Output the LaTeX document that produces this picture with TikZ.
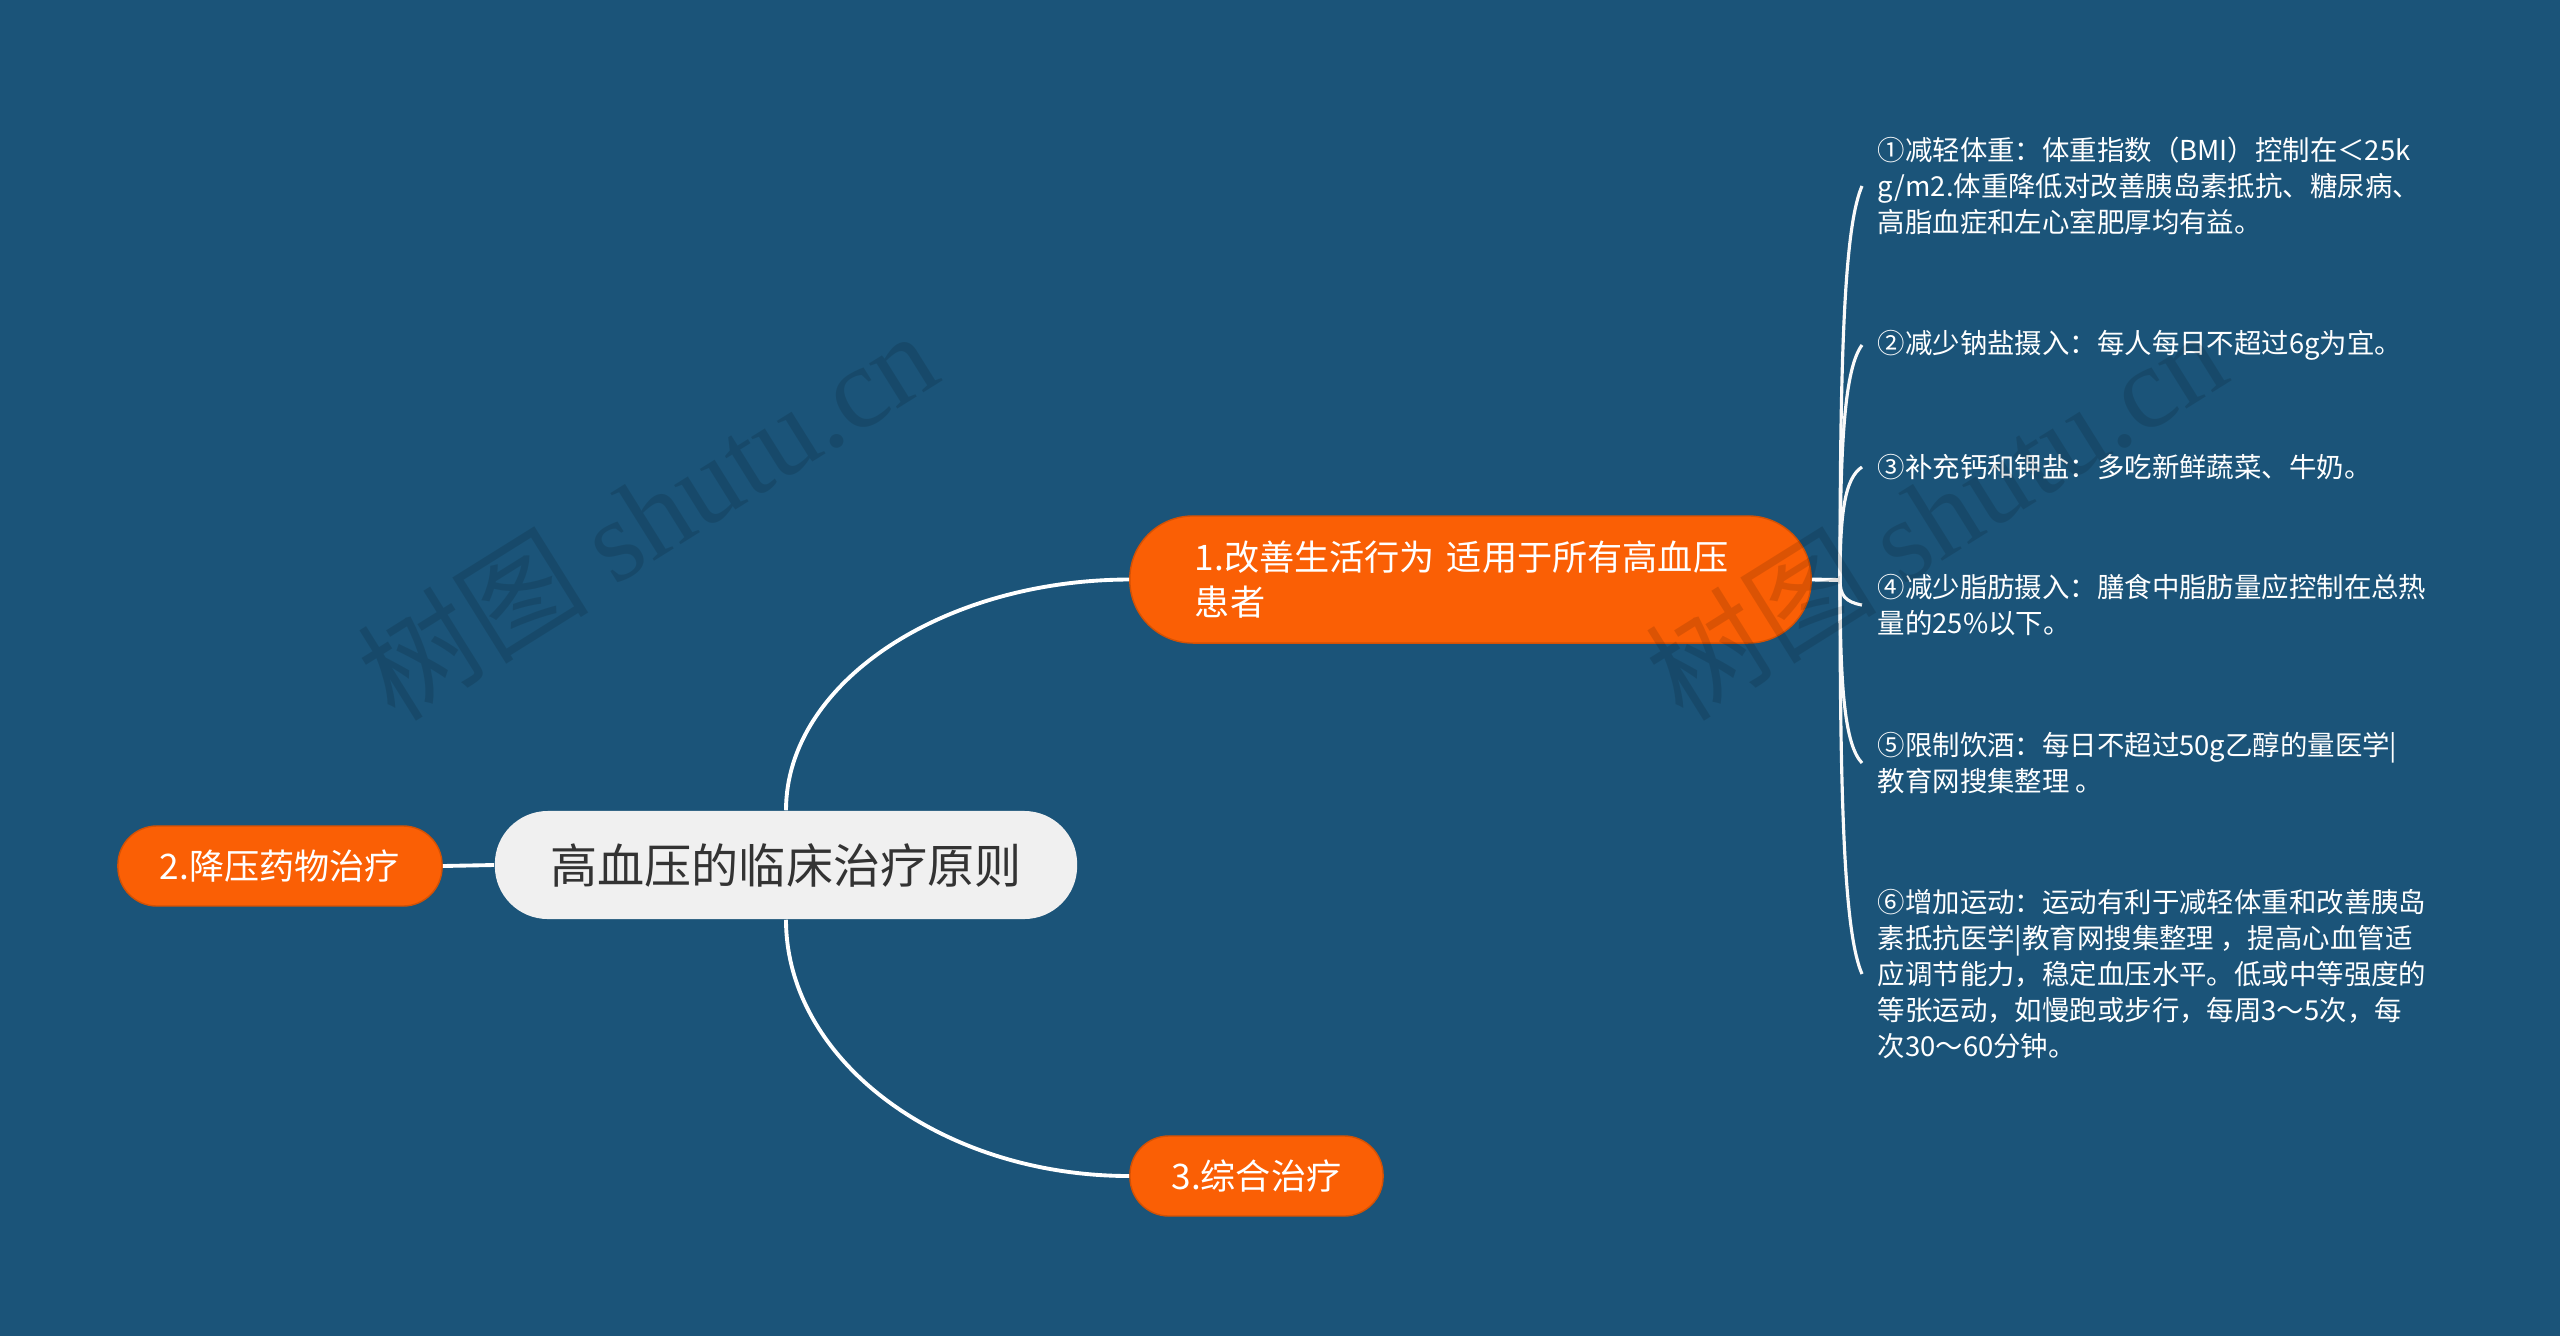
\documentclass[tikz,border=0pt]{standalone}
\usepackage{fontspec}
\setmainfont{Noto Sans CJK SC}
\newfontfamily\wmfont{Liberation Serif}
\definecolor{bg}{HTML}{1B5479}
\definecolor{org}{HTML}{FA5F05}
\definecolor{cen}{HTML}{F0F0F0}
\definecolor{ctext}{HTML}{333333}
\begin{document}
\begin{tikzpicture}[x=0.01cm,y=-0.01cm,
  link/.style={draw=white, line width=1.1pt},
  leaflink/.style={draw=white!95!gray, line width=0.9pt},
  pill/.style={fill=org, draw=org!85!black, line width=0.4pt, text=white, font=\fontsize{10}{13}\selectfont, inner sep=0pt},
  leaf/.style={anchor=west, text=white, align=left, inner xsep=0.15cm, inner ysep=0pt, font=\fontsize{7.8}{10.2}\selectfont},
  wm/.style={rotate=32, opacity=0.12, text=black, font=\fontsize{33}{33}\selectfont}]
\fill[bg] (0,0) rectangle (2560,1336);
\useasboundingbox (0,0) rectangle (2560,1336);

\node[fill=cen, text=ctext, rounded corners=0.53cm, minimum width=5.82cm, minimum height=1.08cm, font=\fontsize{13.4}{16}\selectfont, inner sep=0pt] (c) at (786,865) {高血压的临床治疗原则};
\node[pill, rounded corners=0.63cm, minimum height=1.27cm, text width=5.51cm, inner xsep=0.65cm, align=left] (n1) at (1470.5,579.5) {1.改善生活行为 适用于所有高血压\\患者};
\node[pill, rounded corners=0.39cm, minimum width=3.24cm, minimum height=0.8cm] (n2) at (280,866) {2.降压药物治疗};
\node[pill, rounded corners=0.39cm, minimum width=2.53cm, minimum height=0.8cm] (n3) at (1256.5,1176) {3.综合治疗};

\draw[link] (c.north) .. controls (786,683) and (942,580) .. (n1.west);
\draw[link] (c.south) .. controls (786,1061) and (942,1176) .. (n3.west);
\draw[link] (n2.east) -- (c.west);

\coordinate (j) at (1840,580);
\draw[link] (n1.east) -- (j);

\node[leaf] (l1) at (1862,186) {①减轻体重：体重指数（BMI）控制在＜25k\\g/m2.体重降低对改善胰岛素抵抗、糖尿病、\\高脂血症和左心室肥厚均有益。};
\node[leaf] (l2) at (1862,345) {②减少钠盐摄入：每人每日不超过6g为宜。};
\node[leaf] (l3) at (1862,467) {③补充钙和钾盐：多吃新鲜蔬菜、牛奶。};
\node[leaf] (l4) at (1862,605) {④减少脂肪摄入：膳食中脂肪量应控制在总热\\量的25\%以下。};
\node[leaf] (l5) at (1862,763) {⑤限制饮酒：每日不超过50g乙醇的量医学|\\教育网搜集整理 。};
\node[leaf] (l6) at (1862,974) {⑥增加运动：运动有利于减轻体重和改善胰岛\\素抵抗医学|教育网搜集整理 ，提高心血管适\\应调节能力，稳定血压水平。低或中等强度的\\等张运动，如慢跑或步行，每周3～5次，每\\次30～60分钟。};

\draw[leaflink] (j) .. controls (1840,344) and (1845,225) .. (l1.west);
\draw[leaflink] (j) .. controls (1840,439) and (1845,368) .. (l2.west);
\draw[leaflink] (j) .. controls (1840,512) and (1845,478) .. (l3.west);
\draw[leaflink] (j) .. controls (1840,595) and (1845,602) .. (l4.west);
\draw[leaflink] (j) .. controls (1840,690) and (1845,745) .. (l5.west);
\draw[leaflink] (j) .. controls (1840,816) and (1845,935) .. (l6.west);

\node[wm] (w1) at (647,514) {树图 {\wmfont shutu.cn}};
\node[wm] (w2) at (1935,514) {树图 {\wmfont shutu.cn}};
\end{tikzpicture}
\end{document}
